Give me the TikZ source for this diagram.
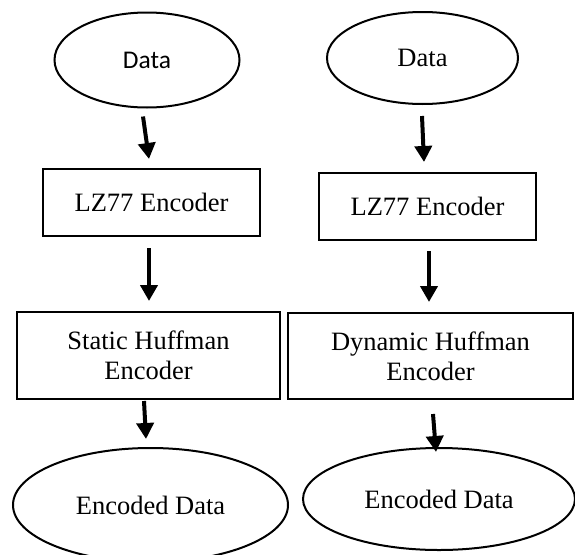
\documentclass[tikz,border=0pt]{standalone}
\usepackage{fontspec}
\setmainfont{Liberation Serif}
\newfontfamily\labelsans{Carlito}
\usetikzlibrary{shapes.geometric,arrows.meta}

\begin{document}
\begin{tikzpicture}[x=1pt,y=-1pt,
  every node/.style={font=\fontsize{26.5}{30}\selectfont, inner sep=0pt, align=center},
  oval/.style={draw, ellipse, line width=2pt},
  stage/.style={draw, rectangle, line width=2pt},
  flow/.style={line width=4pt, -{Triangle[width=17pt,length=16pt]}}]
  \useasboundingbox (0,0) rectangle (575,554);
  \clip (0,0) rectangle (575,554);

  % left chain: static Huffman
  \node[oval, minimum width=185pt, minimum height=95pt, font=\labelsans\fontsize{25.5}{30}\selectfont] (d1) at (147,60) {Data};
  \node[stage, minimum width=217pt, minimum height=67pt] (lz1) at (151.5,202.5) {LZ77 Encoder};
  \node[stage, minimum width=263pt, minimum height=87pt] (sh) at (148.5,355.5) {Static Huffman\\Encoder};
  \node[oval, minimum width=275pt, minimum height=114pt] (e1) at (150.5,505) {Encoded Data};

  % right chain: dynamic Huffman
  \node[oval, minimum width=191pt, minimum height=92pt] (d2) at (422.5,58) {Data};
  \node[stage, minimum width=217pt, minimum height=67pt] (lz2) at (427.5,206.5) {LZ77 Encoder};
  \node[stage, minimum width=285pt, minimum height=86pt] (dh) at (430.5,356) {Dynamic Huffman\\Encoder};
  \node[oval, minimum width=272pt, minimum height=102pt] (e2) at (439,499) {Encoded Data};

  % connectors
  \draw[flow] ([shift={(-4,8)}]d1.south) -- ([shift={(-2.5,-9)}]lz1.north);
  \draw[flow] ([shift={(-2.5,11)}]lz1.south) -- ([shift={(0.5,-10)}]sh.north);
  \draw[flow] ([shift={(-4.5,1)}]sh.south) -- ([shift={(-4.5,-8)}]e1.north);

  \draw[flow] ([shift={(-0.5,11)}]d2.south) -- ([shift={(-3.5,-10)}]lz2.north);
  \draw[flow] ([shift={(1.5,10)}]lz2.south) -- ([shift={(-1.5,-10)}]dh.north);
  \draw[flow] ([shift={(2.5,14)}]dh.south) -- ([shift={(-3,5)}]e2.north);
\end{tikzpicture}
\end{document}
